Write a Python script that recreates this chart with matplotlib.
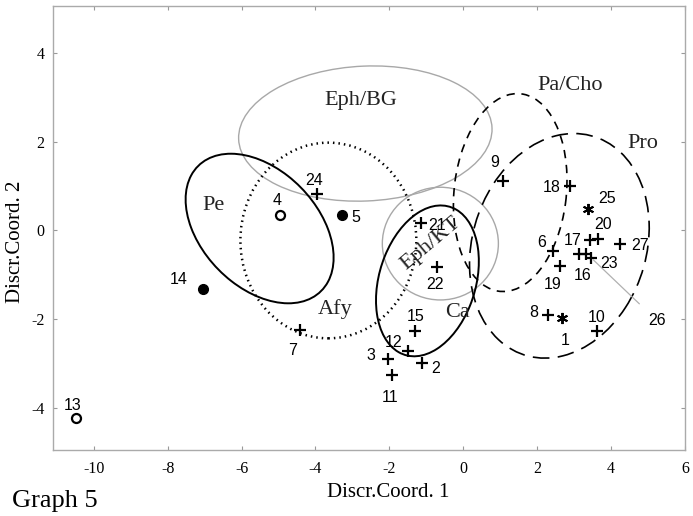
import matplotlib
matplotlib.use("Agg")
import matplotlib.pyplot as plt
from matplotlib.patches import Ellipse

plt.rcParams['axes.unicode_minus'] = False

# sample points: id, coordinates, marker kind
ids = [1, 2, 3, 4, 5, 6, 7, 8, 9, 10, 11, 12, 13, 14, 15, 16, 17, 18, 19, 20,
       21, 22, 23, 24, 25, 26, 27]
coord1 = [2.68, -1.11, -2.03, -4.95, -3.27, 2.43, -4.41, 2.30, 1.08, 3.62,
          -1.92, -1.49, -10.49, -7.05, -1.30, 3.14, 3.43, 2.89, 2.62, 3.65,
          -1.14, -0.70, 3.32, -3.95, 3.38, 3.46, 4.24]
coord2 = [-1.97, -3.00, -2.91, 0.35, 0.35, -0.46, -2.24, -1.90, 1.12, -2.26,
          -3.27, -2.73, -4.24, -1.32, -2.26, -0.53, -0.23, 1.00, -0.80, -0.19,
          0.17, -0.82, -0.53, 0.82, 0.49, -0.62, -0.32]
kind = ['star', 'plus', 'plus', 'open', 'filled', 'plus', 'plus', 'plus', 'plus', 'plus',
        'plus', 'plus', 'open', 'filled', 'plus', 'plus', 'plus', 'plus', 'plus', 'plus',
        'plus', 'plus', 'plus', 'plus', 'star', 'plus', 'plus']

# group ellipses: name, center, width, height, angle
groups = ['Eph/BG', 'Pe', 'Afy', 'Eph/KT', 'Ca', 'Pa/Cho', 'Pro']
g_cx = [-2.65, -5.51, -3.65, -0.62, -0.97, 1.27, 2.60]
g_cy = [2.18, 0.04, -0.23, -0.30, -1.14, 0.85, -0.35]
g_w = [6.86, 4.41, 4.76, 3.14, 3.57, 4.49, 5.36]
g_h = [3.04, 2.82, 4.41, 2.54, 2.56, 3.03, 4.53]
g_ang = [2, -33, 0, 0, 64, 81, 52]
g_lx = [-2.78, -6.76, -3.46, -0.89, -0.16, 2.89, 4.86]
g_ly = [2.92, 0.55, -1.77, -0.30, -1.86, 3.26, 1.95]

# styles
g_style = {
    'Eph/BG': dict(color='#a8a8a8', lw=1.0, ls='-'),
    'Pe': dict(color='black', lw=1.4, ls='-'),
    'Afy': dict(color='black', lw=1.8, ls=(0, (0.6, 1.6))),
    'Eph/KT': dict(color='#a8a8a8', lw=1.0, ls='-'),
    'Ca': dict(color='black', lw=1.4, ls='-'),
    'Pa/Cho': dict(color='black', lw=1.2, ls=(0, (5, 4))),
    'Pro': dict(color='black', lw=1.2, ls=(0, (10, 5))),
}
g_rot = {'Eph/KT': 40}

# label offsets in pixels
lab_off = {1: (3, -23), 2: (13, -5), 3: (-17, 4), 4: (-3, 14), 5: (13, -3),
           6: (-11, 8), 7: (-8, -21), 8: (-15, 2), 9: (-8, 18), 10: (0, 13),
           11: (-2, -22), 12: (-15, 9), 13: (-3, 13), 14: (-24, 9), 15: (0, 14),
           16: (3, -22), 17: (-17, 0), 18: (-18, -2), 19: (-7, -19), 20: (5, 14),
           21: (16, -3), 22: (-2, -18), 23: (23, -10), 24: (-3, 13), 25: (19, 10),
           26: (66, -63), 27: (20, -1)}

fig = plt.figure(figsize=(6.93, 5.16), dpi=100)
ax = fig.add_axes([0.0765, 0.128, 0.912, 0.860])

for i, g in enumerate(groups):
    st = g_style[g]
    e = Ellipse((g_cx[i], g_cy[i]), g_w[i], g_h[i], angle=g_ang[i], fill=False,
                edgecolor=st['color'], lw=st['lw'], ls=st['ls'])
    ax.add_patch(e)
    ax.text(g_lx[i], g_ly[i], g, family='Liberation Serif', fontsize=16,
            ha='center', va='center', rotation=g_rot.get(g, 0), color='#222222')

for i, pid in enumerate(ids):
    x, y, k = coord1[i], coord2[i], kind[i]
    if k == 'plus':
        ax.plot(x, y, marker='+', ms=8, mew=1.6, color='black', ls='none')
    elif k == 'star':
        ax.plot(x, y, marker=(6, 2, 0), ms=8, mew=1.4, color='black', ls='none')
    elif k == 'filled':
        ax.plot(x, y, marker='o', ms=7, color='black', ls='none')
    else:
        ax.plot(x, y, marker='o', ms=6.5, mfc='white', mec='black', mew=1.6, ls='none')
    dx, dy = lab_off[pid]
    if pid == 26:
        ax.annotate(str(pid), (x, y), xytext=(dx, dy), textcoords='offset pixels',
                    family='Liberation Sans', fontsize=11.5, ha='center', va='center',
                    arrowprops=dict(arrowstyle='-', color='#b0b0b0', lw=0.9,
                                    shrinkA=7, shrinkB=2))
    else:
        ax.annotate(str(pid), (x, y), xytext=(dx, dy), textcoords='offset pixels',
                    family='Liberation Sans', fontsize=11.5, ha='center', va='center')

ax.set_xlim(-11.1, 6.0)
ax.set_ylim(-4.95, 5.05)
ax.set_xticks([-10, -8, -6, -4, -2, 0, 2, 4, 6])
ax.set_yticks([-4, -2, 0, 2, 4])
ax.tick_params(direction='in', length=3, width=0.8, color='#999999',
               top=True, right=True, labelsize=11.5, pad=8)
ax.tick_params(axis='y', pad=6)
for lab in ax.get_xticklabels() + ax.get_yticklabels():
    lab.set_family('Liberation Serif')
for sp in ax.spines.values():
    sp.set_color('#aaaaaa')
    sp.set_linewidth(1.0)

ax.set_xlabel('Discr.Coord. 1', family='Liberation Serif', fontsize=15)
ax.xaxis.set_label_coords(0.53, -0.075)
ax.set_ylabel('Discr.Coord. 2', family='Liberation Serif', fontsize=15)
ax.yaxis.set_label_coords(-0.045, 0.47)

fig.text(0.017, 0.03, 'Graph 5', family='Liberation Serif', fontsize=19,
         ha='left', va='center')

fig.savefig('out.png', dpi=100, facecolor='white')
